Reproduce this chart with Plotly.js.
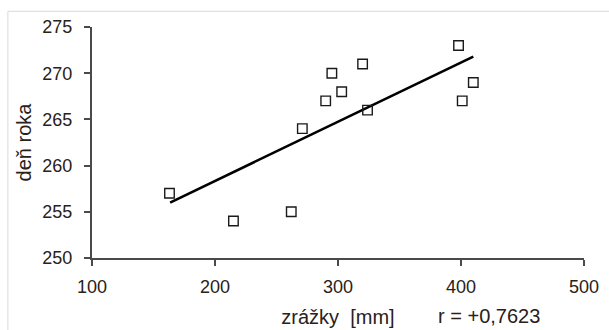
<!DOCTYPE html>
<html>
<head>
<meta charset="utf-8">
<script src="https://cdn.plot.ly/plotly-3.0.1.min.js"></script>
<style>html,body{margin:0;padding:0;background:#fff;}#chart{width:609px;height:330px;}</style>
</head>
<body>
<div id="chart"></div>
<script>
// precipitation [mm] and day of year
const precip = [163, 215, 262, 271, 290, 295, 303, 320, 324, 398, 401, 410];
const dayOfYear = [257, 254, 255, 264, 267, 270, 268, 271, 266, 273, 267, 269];
// regression line end points
const fitX = [163.5, 410];
const fitY = [256.0, 271.8];
const xTicks = [100, 200, 300, 400, 500];
const yTicks = [250, 255, 260, 265, 270, 275];
const xTitle = 'zrážky\u00a0\u00a0[mm]';
const yTitle = 'deň roka';
const rText = 'r = +0,7623';

const font = 'Liberation Sans, Arial, sans-serif';
const textColor = '#2a2118';

const traces = [
  {
    x: fitX, y: fitY, type: 'scatter', mode: 'lines',
    line: {color: '#000', width: 2.6}, hoverinfo: 'skip', showlegend: false
  },
  {
    x: precip, y: dayOfYear, type: 'scatter', mode: 'markers',
    marker: {symbol: 'square-open', size: 9.5, color: '#1a1a1a', line: {width: 1.4, color: '#1a1a1a'}},
    showlegend: false
  }
];

const axisCommon = {
  showgrid: false, zeroline: false, showline: true,
  linecolor: '#4a4a4a', linewidth: 2,
  ticks: 'outside', ticklen: 6, tickwidth: 2, tickcolor: '#4a4a4a',
  tickfont: {family: font, size: 18, color: textColor}
};

const layout = {
  width: 609, height: 330,
  margin: {l: 92, r: 25, t: 27, b: 72, pad: 0},
  paper_bgcolor: '#fff', plot_bgcolor: '#fff',
  font: {family: font, color: textColor},
  xaxis: Object.assign({}, axisCommon, {
    range: [100, 500], tickvals: xTicks, ticktext: xTicks.map(String),
    ticklabelstandoff: 5,
    title: {text: xTitle, font: {family: font, size: 20, color: textColor}, standoff: 14}
  }),
  yaxis: Object.assign({}, axisCommon, {
    range: [250, 275], tickvals: yTicks, ticktext: yTicks.map(String),
    ticklabelstandoff: 8,
    title: {text: yTitle, font: {family: font, size: 20, color: textColor}, standoff: 5}
  }),
  annotations: [
    {text: rText, xref: 'paper', yref: 'paper', x: 0.699, y: -0.25,
     xanchor: 'left', yanchor: 'middle', showarrow: false,
     font: {family: font, size: 20, color: textColor}}
  ],
  shapes: [
    {type: 'line', xref: 'paper', yref: 'paper', x0: -0.171, x1: 1.2, y0: 1.068, y1: 1.068,
     line: {color: '#d9d9d9', width: 1}},
    {type: 'line', xref: 'paper', yref: 'paper', x0: -0.171, x1: -0.171, y0: 1.068, y1: -0.5,
     line: {color: '#d9d9d9', width: 1}}
  ],
  showlegend: false
};

Plotly.newPlot('chart', traces, layout, {displayModeBar: false, staticPlot: true});
</script>
</body>
</html>
